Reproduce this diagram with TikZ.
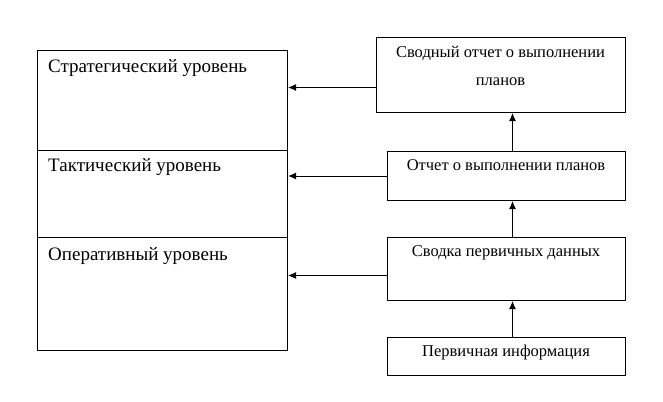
\documentclass[tikz,border=0pt]{standalone}
\usepackage{fontspec}
\setmainfont{Liberation Serif}
\usetikzlibrary{arrows.meta,positioning}
\tikzset{
  level/.style={draw=black, line width=1bp, minimum width=250bp, inner sep=0pt, anchor=north west},
  doc/.style={draw=black, line width=1bp, minimum width=238bp, inner sep=0pt, anchor=north west},
  arr/.style={draw=black, line width=1bp, -{Latex[length=8bp,width=7bp]}},
  lab/.style={font=\fontsize{19bp}{21bp}\selectfont, inner sep=0pt, anchor=west},
  labr/.style={font=\fontsize{16.5bp}{20bp}\selectfont, inner sep=0pt},
}
\begin{document}
\begin{tikzpicture}[x=1bp,y=-1bp]
\useasboundingbox (0,0) rectangle (663,401);

% levels
\node[level, minimum height=100bp] (strat) at (37,50) {};
\node[level, minimum height=87bp] (takt) at (37,150) {};
\node[level, minimum height=113bp] (oper) at (37,237) {};
\node[lab] at (48,68) {Стратегический уровень};
\node[lab] at (48,167) {Тактический уровень};
\node[lab] at (48,256) {Оперативный уровень};

% reports
\node[doc, minimum width=249bp, minimum height=75bp] (svod) at (376,37) {};
\node[doc, minimum height=49bp] (otch) at (387,151) {};
\node[doc, minimum height=63bp] (dann) at (387,237) {};
\node[doc, minimum height=38bp] (perv) at (387,337) {};
\node[labr] at (500.5,53) {Сводный отчет о выполнении};
\node[labr] at (500.5,82) {планов};
\node[labr] at (506,165) {Отчет о выполнении планов};
\node[labr] at (506,253) {Сводка первичных данных};
\node[labr] at (506,353) {Первичная информация};

% arrows to levels
\draw[arr] ([yshift=-12.5bp]svod.west) coordinate (h1) -- (h1 -| strat.east);
\draw[arr] (otch.west) -- (otch.west -| takt.east);
\draw[arr] ([yshift=-6.5bp]dann.west) coordinate (h3) -- (h3 -| oper.east);

% arrows upward
\draw[arr] ([xshift=6bp]otch.north) coordinate (v1) -- (v1 |- svod.south);
\draw[arr] ([xshift=6bp]dann.north) coordinate (v2) -- (v2 |- otch.south);
\draw[arr] ([xshift=6bp]perv.north) coordinate (v3) -- (v3 |- dann.south);
\end{tikzpicture}
\end{document}
